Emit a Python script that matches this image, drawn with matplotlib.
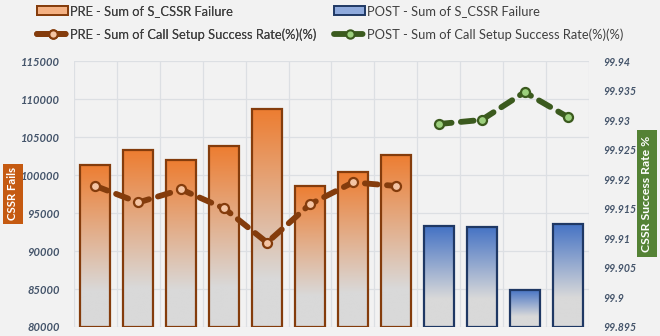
import numpy as np
import matplotlib
matplotlib.use("Agg")
import matplotlib.pyplot as plt
from matplotlib.colors import LinearSegmentedColormap
from matplotlib.lines import Line2D
from matplotlib.patches import Patch, Rectangle

plt.rcParams['font.family'] = ['Lato', 'DejaVu Sans']

# Twelve daily samples: first eight PRE, last four POST
pre_fail = [101400, 103300, 102000, 103800, 108700, 98600, 100400, 102700]
post_fail = [93300, 93200, 84900, 93600]
pre_cssr = [99.9189, 99.9161, 99.9183, 99.9151, 99.9093, 99.9158, 99.9195, 99.9189]
post_cssr = [99.9294, 99.9301, 99.9348, 99.9306]

left_ticks = [80000, 85000, 90000, 95000, 100000, 105000, 110000, 115000]
right_ticks = [99.895, 99.9, 99.905, 99.91, 99.915, 99.92, 99.925, 99.93, 99.935, 99.94]
right_tick_labels = ["99.895", "99.9", "99.905", "99.91", "99.915", "99.92",
                     "99.925", "99.93", "99.935", "99.94"]

pre_labels = ["PRE - Sum of S_CSSR Failure",
              "PRE - Sum of Call Setup Success Rate(%)(%)"]
post_labels = ["POST - Sum of S_CSSR Failure",
               "POST - Sum of Call Setup Success Rate(%)(%)"]

BG = "#F2F2F2"
GRID = "#DCDFE3"
TICK = "#44546A"
PRE_EDGE = "#843C0C"
POST_EDGE = "#1F3864"
PRE_LINE = "#843C0C"
POST_LINE = "#3B5A1E"

W, H = 660, 336
fig = plt.figure(figsize=(6.6, 3.36), dpi=100, facecolor=BG)
ax = fig.add_axes([0.112, 0.027, 0.7805, 0.79])
ax.set_facecolor(BG)

n_pre = len(pre_fail)
x_pre = np.arange(n_pre)
x_post = np.arange(n_pre, n_pre + len(post_fail))
n = n_pre + len(post_fail)

ymin, ymax = left_ticks[0], left_ticks[-1]

pre_cmap = LinearSegmentedColormap.from_list(
    "pre", [(0.0, "#ED7D31"), (0.78, "#D9D9D9"), (1.0, "#D9D9D9")])
post_cmap = LinearSegmentedColormap.from_list(
    "post", [(0.0, "#4472C4"), (0.72, "#D9D9D9"), (1.0, "#D9D9D9")])

width = 0.7


def gradient_bars(xs, vals, cmap, edge):
    bars = ax.bar(xs, [v - ymin for v in vals], bottom=ymin, width=width,
                  facecolor="none", edgecolor=edge, linewidth=1.6, zorder=3)
    grad = np.linspace(0, 1, 256).reshape(-1, 1)
    for b in bars:
        x0, y0 = b.get_x(), b.get_y()
        x1, y1 = x0 + b.get_width(), y0 + b.get_height()
        im = ax.imshow(grad, extent=[x0, x1, y0, y1], origin="upper",
                       aspect="auto", cmap=cmap, zorder=2, interpolation="bilinear")
        im.set_clip_path(b)
    return bars


gradient_bars(x_pre, pre_fail, pre_cmap, PRE_EDGE)
gradient_bars(x_post, post_fail, post_cmap, POST_EDGE)
ax.set_xlim(-0.5, n - 0.5)
ax.set_ylim(ymin, ymax)

# grid
ax.set_yticks(left_ticks)
ax.set_yticklabels([str(t) for t in left_ticks])
ax.set_xticks(np.arange(-0.5, n, 1.0))
ax.set_xticklabels([])
ax.tick_params(axis="x", length=0)
ax.grid(True, color=GRID, linewidth=0.9, zorder=0)
ax.set_axisbelow(True)
for s in ax.spines.values():
    s.set_visible(False)
ax.tick_params(axis="y", length=0, pad=10, labelcolor=TICK)
for lbl in ax.get_yticklabels():
    lbl.set_fontstyle("italic")
    lbl.set_fontweight("bold")
    lbl.set_fontsize(8.0)

# secondary axis for success rate lines
ax2 = ax.twinx()
ax2.set_ylim(right_ticks[0], right_ticks[-1])
ax2.set_yticks(right_ticks)
ax2.set_yticklabels(right_tick_labels)
for s in ax2.spines.values():
    s.set_visible(False)
ax2.tick_params(axis="y", length=0, pad=10, labelcolor=TICK)
for lbl in ax2.get_yticklabels():
    lbl.set_fontstyle("italic")
    lbl.set_fontweight("bold")
    lbl.set_fontsize(7.6)

line_kw = dict(linewidth=4.2, dashes=(2.2, 1.6), dash_capstyle="round",
               marker="o", markersize=6.5, markeredgewidth=1.6, zorder=5)
ax2.plot(x_pre, pre_cssr, color=PRE_LINE, markerfacecolor="#F4C4A3",
         markeredgecolor=PRE_LINE, **line_kw)
ax2.plot(x_post, post_cssr, color=POST_LINE, markerfacecolor="#9CCF7D",
         markeredgecolor=POST_LINE, **line_kw)


# axis titles in coloured boxes (box given in pixels: left, top, right, bottom)
def boxed_title(text, box, color, size):
    l, t, r, b = box
    fig.add_artist(Rectangle((l / W, 1 - b / H), (r - l) / W, (b - t) / H,
                             transform=fig.transFigure, facecolor=color,
                             edgecolor="none"))
    fig.text((l + r) / 2 / W, 1 - (t + b) / 2 / H, text, rotation=90,
             color="white", fontsize=size, fontweight="bold",
             ha="center", va="center")


boxed_title("CSSR Fails", (3, 164, 23, 224), "#C55A11", 8.2)
boxed_title("CSSR Success Rate %", (637, 130, 657, 257), "#548235", 8.8)


# legend: one column for PRE, one for POST
def line_handle(color, face):
    return Line2D([], [], color=color, linewidth=4.2, dashes=(2.0, 0.9),
                  dash_capstyle="round", marker="o", markersize=6,
                  markeredgewidth=1.5, markerfacecolor=face, markeredgecolor=color)


pre_handles = [Patch(facecolor="#F4B183", edgecolor=PRE_EDGE, linewidth=1.4),
               line_handle(PRE_LINE, "#F4C4A3")]
post_handles = [Patch(facecolor="#8FAADC", edgecolor=POST_EDGE, linewidth=1.4),
                line_handle(POST_LINE, "#9CCF7D")]

leg_kw = dict(loc="upper left", frameon=False, fontsize=9.3, labelcolor="#404040",
              handlelength=2.4, handleheight=0.6, handletextpad=0.15,
              labelspacing=0.85, borderpad=0, borderaxespad=0)
leg1 = fig.legend(pre_handles, pre_labels, bbox_to_anchor=(37 / W, 1 - 5 / H), **leg_kw)
fig.add_artist(leg1)
fig.legend(post_handles, post_labels, bbox_to_anchor=(334 / W, 1 - 5 / H), **leg_kw)

fig.savefig("out.png", dpi=100, facecolor=BG)
